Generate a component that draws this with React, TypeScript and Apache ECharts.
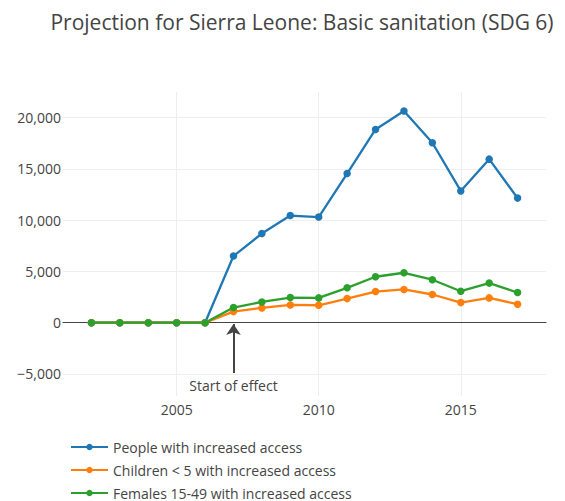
import React, { useEffect, useRef } from "react";
import * as echarts from "echarts";

const years = [2002, 2003, 2004, 2005, 2006, 2007, 2008, 2009, 2010, 2011, 2012, 2013, 2014, 2015, 2016, 2017];
const people = [0, 0, 0, 0, 0, 6500, 8700, 10450, 10300, 14550, 18850, 20650, 17550, 12850, 15950, 12150];
const children = [0, 0, 0, 0, 0, 1080, 1440, 1730, 1700, 2350, 3040, 3240, 2750, 1960, 2420, 1800];
const females = [0, 0, 0, 0, 0, 1480, 2020, 2450, 2420, 3400, 4480, 4870, 4190, 3070, 3860, 2940];
const seriesNames = [
  "People with increased access",
  "Children < 5 with increased access",
  "Females 15-49 with increased access",
];
const xTicks = [2005, 2010, 2015];
const yTicks = [-5000, 0, 5000, 10000, 15000, 20000];
const effectYear = 2007;
const titleText = "Projection for Sierra Leone: Basic sanitation (SDG 6)";
const annotationText = "Start of effect";

const colors = ["#1f77b4", "#ff7f0e", "#2ca02c"];
const FONT = "'Open Sans', sans-serif";

export default function App() {
  const ref = useRef<HTMLDivElement>(null);
  useEffect(() => {
    if (!ref.current) return;
    const chart = echarts.init(ref.current, undefined, { renderer: "svg" });
    const mk = (name: string, vals: number[], color: string, extra: any = {}) => ({
      name,
      type: "line",
      data: years.map((y, i) => [y, vals[i]]),
      symbol: "circle",
      symbolSize: 7.5,
      clip: false,
      lineStyle: { color, width: 2.3 },
      itemStyle: { color },
      ...extra,
    });
    chart.setOption({
      animation: false,
      textStyle: { fontFamily: FONT },
      graphic: [
        {
          type: "text",
          x: 302,
          y: 22,
          style: {
            text: titleText,
            font: `21px ${FONT}`,
            fill: "#444",
            textAlign: "center",
            textVerticalAlign: "middle",
          },
        },
      ],
      grid: { left: 63, right: 19, top: 92, bottom: 105, containLabel: false },
      legend: {
        orient: "vertical",
        left: 65,
        top: 435,
        height: 66,
        itemWidth: 37,
        itemHeight: 8,
        itemGap: 9,
        data: seriesNames,
        textStyle: { color: "#444", fontSize: 14, fontFamily: FONT, lineHeight: 14 },
      },
      xAxis: {
        type: "value",
        min: 2001,
        max: 2018,
        axisLine: { show: true, onZero: true, lineStyle: { color: "#444", width: 1 } },
        axisTick: { show: false, customValues: xTicks },
        axisLabel: {
          customValues: xTicks,
          color: "#444",
          fontSize: 14,
          fontFamily: FONT,
          margin: 6,
          formatter: (v: number) => String(v),
        },
        splitLine: { show: true, lineStyle: { color: "#eee", width: 1 } },
      },
      yAxis: {
        type: "value",
        min: -7150,
        max: 22500,
        axisLine: { show: false },
        axisTick: { show: false, customValues: yTicks },
        axisLabel: {
          customValues: yTicks,
          color: "#444",
          fontSize: 14,
          fontFamily: FONT,
          margin: 2,
          formatter: (v: number) =>
            (v < 0 ? "\u2212" : "") + Math.abs(v).toLocaleString("en-US"),
        },
        splitLine: { show: true, lineStyle: { color: "#eee", width: 1 } },
      },
      series: [
        mk(seriesNames[0], people, colors[0], {
          markLine: {
            silent: true,
            symbol: ["none", "arrow"],
            symbolSize: [11, 11],
            lineStyle: { color: "#444", width: 2, type: "solid" },
            label: {
              show: true,
              position: "start",
              formatter: annotationText,
              color: "#444",
              fontSize: 14,
              fontFamily: FONT,
              distance: 6,
            },
            data: [[{ coord: [effectYear, -4900] }, { coord: [effectYear, -120] }]],
          },
        }),
        mk(seriesNames[1], children, colors[1]),
        mk(seriesNames[2], females, colors[2]),
      ],
    });
    return () => chart.dispose();
  }, []);
  return (
    <div
      ref={ref}
      style={{ position: "absolute", left: 0, top: 0, width: 565, height: 501 }}
    />
  );
}
